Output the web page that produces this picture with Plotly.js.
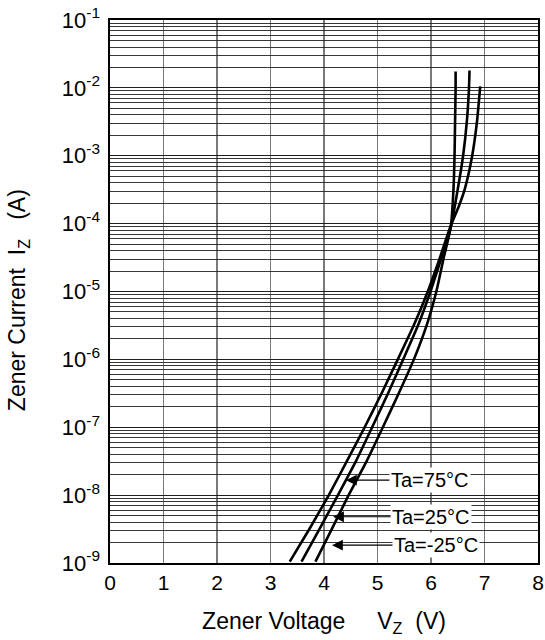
<!DOCTYPE html>
<html>
<head>
<meta charset="utf-8">
<script src="https://cdn.plot.ly/plotly-3.0.1.min.js"></script>
<style>html,body{margin:0;padding:0;background:#fff;}#chart{width:545px;height:640px;}</style>
</head>
<body>
<div id="chart"></div>
<script>
// Zener voltage (V) vs zener current (A)
var iz_75 = [1.05e-9, 3.2e-9, 1e-8, 3.2e-8, 1e-7, 3.2e-7, 1e-6, 3.2e-6, 1e-5, 3.2e-5, 8.9e-5, 1.8e-4, 3.2e-4, 1e-3, 3.2e-3, 1.05e-2];
var vz_75 = [3.36, 3.73, 4.09, 4.43, 4.76, 5.08, 5.38, 5.68, 5.94, 6.17, 6.36, 6.52, 6.63, 6.77, 6.86, 6.92];

var iz_25 = [1.05e-9, 3.2e-9, 1e-8, 3.2e-8, 1e-7, 3.2e-7, 1e-6, 3.2e-6, 1e-5, 3.2e-5, 8.9e-5, 3.2e-4, 1e-3, 3.2e-3, 1e-2, 1.8e-2];
var vz_25 = [3.58, 3.92, 4.26, 4.60, 4.90, 5.20, 5.48, 5.76, 5.99, 6.20, 6.37, 6.50, 6.60, 6.67, 6.71, 6.72];

var iz_m25 = [1.05e-9, 3.2e-9, 1e-8, 3.2e-8, 1e-7, 3.2e-7, 1e-6, 3.2e-6, 1e-5, 3.2e-5, 8.9e-5, 3.2e-4, 1e-3, 3.2e-3, 1e-2, 1.75e-2];
var vz_m25 = [3.84, 4.15, 4.46, 4.80, 5.10, 5.40, 5.68, 5.92, 6.10, 6.24, 6.37, 6.42, 6.44, 6.45, 6.46, 6.46];

var seriesNames = ["Ta=75°C", "Ta=25°C", "Ta=-25°C"];

var xTickVals = [0, 1, 2, 3, 4, 5, 6, 7, 8];
var yTickVals = [1e-9, 1e-8, 1e-7, 1e-6, 1e-5, 1e-4, 1e-3, 1e-2, 1e-1];
var yTickText = ["10<sup>-9</sup>", "10<sup>-8</sup>", "10<sup>-7</sup>", "10<sup>-6</sup>", "10<sup>-5</sup>", "10<sup>-4</sup>", "10<sup>-3</sup>", "10<sup>-2</sup>", "10<sup>-1</sup>"];

var FONT = "Liberation Sans, Arial, Helvetica, sans-serif";
var lineStyle = {color: "#000", width: 2.6, shape: "spline", smoothing: 0.5};

var traces = [
  {x: vz_75, y: iz_75, name: seriesNames[0], mode: "lines", line: lineStyle, hoverinfo: "skip"},
  {x: vz_25, y: iz_25, name: seriesNames[1], mode: "lines", line: lineStyle, hoverinfo: "skip"},
  {x: vz_m25, y: iz_m25, name: seriesNames[2], mode: "lines", line: lineStyle, hoverinfo: "skip"},
  // carrier trace for the minor-grid overlay axis
  {x: [null], y: [null], yaxis: "y2", mode: "lines", showlegend: false, hoverinfo: "skip"}
];

var nb = "\u00a0";
function sp(n) { var s = ""; for (var i = 0; i < n; i++) s += nb; return s; }
var annFont = {family: FONT, size: 20, color: "#000"};
function label(text, tipV, tipLogI, dx) {
  return {
    x: tipV, y: tipLogI, xref: "x", yref: "y",
    text: text, showarrow: true, ax: dx, ay: 0,
    arrowhead: 2, arrowsize: 1.8, arrowwidth: 1.2, arrowcolor: "#000",
    font: annFont, bgcolor: "#fff", borderpad: 1
  };
}

var layout = {
  width: 545, height: 640,
  margin: {l: 110, r: 7, t: 20, b: 77},
  paper_bgcolor: "#fff", plot_bgcolor: "#fff",
  showlegend: false,
  font: {family: FONT, size: 20, color: "#000"},
  xaxis: {
    range: [0, 8], tickvals: xTickVals, ticks: "",
    showgrid: true, gridcolor: "#7a7a7a", gridwidth: 1.3,
    showline: true, mirror: true, linecolor: "#000", linewidth: 1.6,
    zeroline: false, tickfont: {family: FONT, size: 21},
    title: {text: "Zener Voltage" + sp(5) + "V<sub>Z</sub>" + sp(2) + "(V)", font: {family: FONT, size: 23}, standoff: 20}
  },
  yaxis: {
    type: "log", range: [-9, -1], tickvals: yTickVals, ticktext: yTickText, ticks: "",
    showgrid: true, gridcolor: "#000", gridwidth: 1,
    showline: true, mirror: true, linecolor: "#000", linewidth: 1.6,
    zeroline: false, tickfont: {family: FONT, size: 22}, ticklabelstandoff: 4
  },
  yaxis2: {
    type: "log", range: [-9, -1], overlaying: "y", dtick: "D1",
    showticklabels: false, ticks: "", showgrid: true, gridcolor: "#222", gridwidth: 0.9,
    showline: false, zeroline: false
  },
  annotations: [
    label(seriesNames[0], 4.41, Math.log10(1.66e-8), 84),
    label(seriesNames[1], 4.17, Math.log10(4.8e-9), 98),
    label(seriesNames[2], 4.15, Math.log10(1.83e-9), 104),
    {
      text: "Zener Current" + sp(2) + "I<sub>Z</sub>" + sp(3) + "(A)",
      textangle: -90, showarrow: false,
      xref: "paper", yref: "paper", x: -0.215, y: 0.484,
      xanchor: "center", yanchor: "middle",
      font: {family: FONT, size: 23, color: "#000"}
    }
  ]
};

Plotly.newPlot("chart", traces, layout, {staticPlot: true, displayModeBar: false});
</script>
</body>
</html>
